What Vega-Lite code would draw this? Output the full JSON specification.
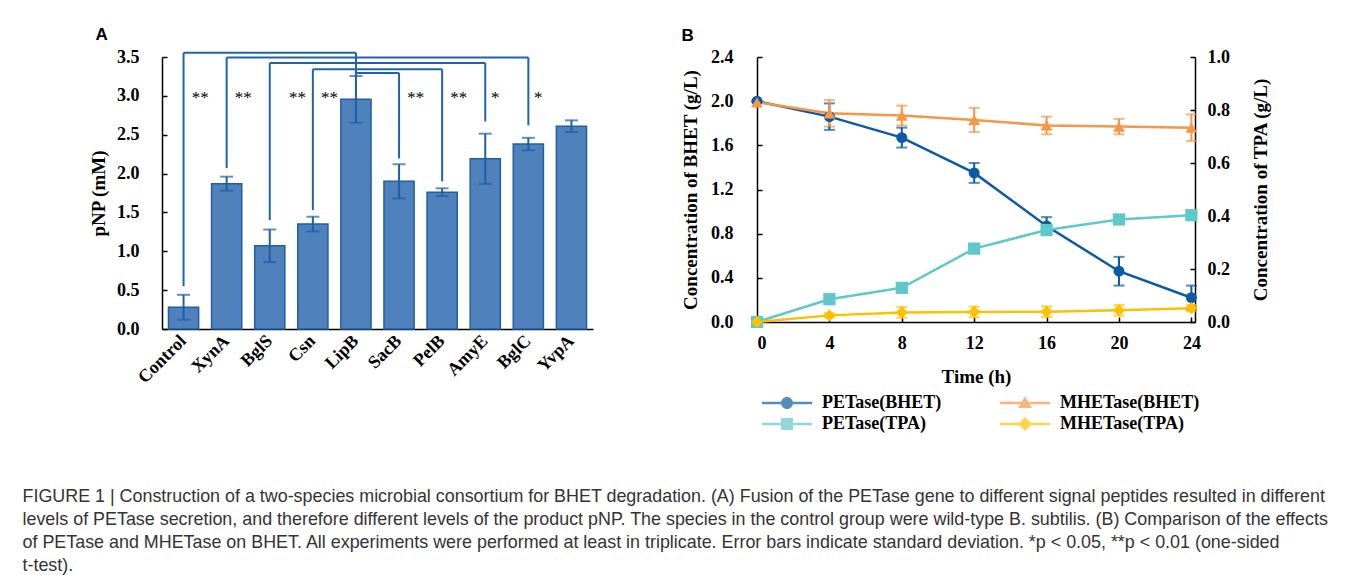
{
  "$schema": "https://vega.github.io/schema/vega-lite/v6.json",
  "padding": {"left": 22, "top": 26, "right": 5, "bottom": 5},
  "background": "white",
  "spacing": 88,
  "resolve": {"scale": {"color": "independent", "shape": "independent"}},
  "config": {
    "view": {"stroke": null},
    "axis": {
      "domainColor": "black", "domainWidth": 1.5, "tickColor": "black", "tickWidth": 1.5,
      "grid": false, "labelOverlap": false,
      "labelFont": "Liberation Serif", "labelFontSize": 18, "labelFontWeight": "bold", "labelColor": "black",
      "titleFont": "Liberation Serif", "titleFontSize": 19, "titleFontWeight": "bold", "titleColor": "black"
    }
  },
  "title": {
    "text": [
      "FIGURE 1 | Construction of a two-species microbial consortium for BHET degradation. (A) Fusion of the PETase gene to different signal peptides resulted in different",
      "levels of PETase secretion, and therefore different levels of the product pNP. The species in the control group were wild-type B. subtilis. (B) Comparison of the effects",
      "of PETase and MHETase on BHET. All experiments were performed at least in triplicate. Error bars indicate standard deviation. *p < 0.05, **p < 0.01 (one-sided",
      "t-test)."
    ],
    "orient": "bottom", "anchor": "start", "frame": "bounds", "dx": -67, "offset": 55,
    "font": "Liberation Sans", "fontSize": 17.9, "fontWeight": "normal", "lineHeight": 23, "color": "#333333"
  },
  "datasets": {
    "bars": [
      {"strain": "Control", "pnp": 0.28, "sd": 0.16},
      {"strain": "XynA", "pnp": 1.87, "sd": 0.09},
      {"strain": "BglS", "pnp": 1.07, "sd": 0.21},
      {"strain": "Csn", "pnp": 1.35, "sd": 0.095},
      {"strain": "LipB", "pnp": 2.955, "sd": 0.30},
      {"strain": "SacB", "pnp": 1.90, "sd": 0.22},
      {"strain": "PelB", "pnp": 1.76, "sd": 0.05},
      {"strain": "AmyE", "pnp": 2.19, "sd": 0.323},
      {"strain": "BglC", "pnp": 2.38, "sd": 0.08},
      {"strain": "YvpA", "pnp": 2.61, "sd": 0.075}
    ],
    "brackets": [
      {"a": "Control", "b": "LipB", "level": 3.556, "aLow": 0.55, "bLow": 3.26},
      {"a": "XynA", "b": "BglC", "level": 3.495, "aLow": 2.07, "bLow": 2.62},
      {"a": "BglS", "b": "AmyE", "level": 3.423, "aLow": 1.40, "bLow": 2.67},
      {"a": "Csn", "b": "PelB", "level": 3.342, "aLow": 1.53, "bLow": 1.90},
      {"a": "LipB", "b": "SacB", "level": 3.295, "aLow": 3.26, "bLow": 2.195}
    ],
    "stars": [
      {"strain": "Control", "sig": "**"},
      {"strain": "XynA", "sig": "**"},
      {"strain": "BglS", "sig": "**"},
      {"strain": "Csn", "sig": "**"},
      {"strain": "SacB", "sig": "**"},
      {"strain": "PelB", "sig": "**"},
      {"strain": "AmyE", "sig": "*"},
      {"strain": "BglC", "sig": "*"}
    ],
    "timecourse": [
      {"t": 0, "series": "PETase(BHET)", "axis": "BHET", "value": 2.00, "sd": 0.0},
      {"t": 4, "series": "PETase(BHET)", "axis": "BHET", "value": 1.86, "sd": 0.12},
      {"t": 8, "series": "PETase(BHET)", "axis": "BHET", "value": 1.67, "sd": 0.09},
      {"t": 12, "series": "PETase(BHET)", "axis": "BHET", "value": 1.35, "sd": 0.09},
      {"t": 16, "series": "PETase(BHET)", "axis": "BHET", "value": 0.87, "sd": 0.08},
      {"t": 20, "series": "PETase(BHET)", "axis": "BHET", "value": 0.46, "sd": 0.13},
      {"t": 24, "series": "PETase(BHET)", "axis": "BHET", "value": 0.22, "sd": 0.11},
      {"t": 0, "series": "MHETase(BHET)", "axis": "BHET", "value": 1.99, "sd": 0.0},
      {"t": 4, "series": "MHETase(BHET)", "axis": "BHET", "value": 1.89, "sd": 0.12},
      {"t": 8, "series": "MHETase(BHET)", "axis": "BHET", "value": 1.87, "sd": 0.09},
      {"t": 12, "series": "MHETase(BHET)", "axis": "BHET", "value": 1.83, "sd": 0.11},
      {"t": 16, "series": "MHETase(BHET)", "axis": "BHET", "value": 1.78, "sd": 0.08},
      {"t": 20, "series": "MHETase(BHET)", "axis": "BHET", "value": 1.77, "sd": 0.07},
      {"t": 24, "series": "MHETase(BHET)", "axis": "BHET", "value": 1.76, "sd": 0.12},
      {"t": 0, "series": "PETase(TPA)", "axis": "TPA", "value": 0.0, "sd": 0.0},
      {"t": 4, "series": "PETase(TPA)", "axis": "TPA", "value": 0.086, "sd": 0.005},
      {"t": 8, "series": "PETase(TPA)", "axis": "TPA", "value": 0.129, "sd": 0.005},
      {"t": 12, "series": "PETase(TPA)", "axis": "TPA", "value": 0.277, "sd": 0.01},
      {"t": 16, "series": "PETase(TPA)", "axis": "TPA", "value": 0.347, "sd": 0.01},
      {"t": 20, "series": "PETase(TPA)", "axis": "TPA", "value": 0.387, "sd": 0.01},
      {"t": 24, "series": "PETase(TPA)", "axis": "TPA", "value": 0.403, "sd": 0.01},
      {"t": 0, "series": "MHETase(TPA)", "axis": "TPA", "value": 0.0, "sd": 0.0},
      {"t": 4, "series": "MHETase(TPA)", "axis": "TPA", "value": 0.025, "sd": 0.008},
      {"t": 8, "series": "MHETase(TPA)", "axis": "TPA", "value": 0.036, "sd": 0.02},
      {"t": 12, "series": "MHETase(TPA)", "axis": "TPA", "value": 0.038, "sd": 0.02},
      {"t": 16, "series": "MHETase(TPA)", "axis": "TPA", "value": 0.039, "sd": 0.02},
      {"t": 20, "series": "MHETase(TPA)", "axis": "TPA", "value": 0.044, "sd": 0.02},
      {"t": 24, "series": "MHETase(TPA)", "axis": "TPA", "value": 0.052, "sd": 0.012}
    ]
  },
  "hconcat": [
    {
      "title": {"text": "A", "anchor": "start", "frame": "bounds", "font": "Liberation Sans", "fontSize": 17, "fontWeight": "bold", "color": "black", "dx": 6, "offset": 4},
      "width": 431,
      "height": 272,
      "layer": [
        {
          "data": {"name": "bars"},
          "mark": {"type": "bar", "fill": "#4f81bd", "stroke": "#1f5fa3", "strokeWidth": 1.5},
          "encoding": {
            "x": {"field": "strain", "type": "nominal", "sort": null,
              "scale": {"domain": ["Control", "XynA", "BglS", "Csn", "LipB", "SacB", "PelB", "AmyE", "BglC", "YvpA"], "paddingInner": 0.3, "paddingOuter": 0.15},
              "axis": {"title": null, "labelAngle": -45, "labelAlign": "right", "labelBaseline": "middle", "labelPadding": 9, "ticks": false}},
            "y": {"field": "pnp", "type": "quantitative",
              "scale": {"domain": [0, 3.5], "nice": false},
              "axis": {"title": "pNP (mM)", "values": [0, 0.5, 1, 1.5, 2, 2.5, 3, 3.5], "format": ".1f", "tickSize": -5, "labelPadding": 28, "titlePadding": 8}}
          }
        },
        {
          "data": {"name": "bars"},
          "mark": {"type": "errorbar", "color": "#1f5fa3", "thickness": 2, "ticks": {"size": 13}},
          "encoding": {
            "x": {"field": "strain", "type": "nominal", "sort": null},
            "y": {"field": "pnp", "type": "quantitative",
              "axis": {"title": "pNP (mM)", "values": [0, 0.5, 1, 1.5, 2, 2.5, 3, 3.5], "format": ".1f", "tickSize": -5, "labelPadding": 28, "titlePadding": 8}},
            "yError": {"field": "sd"}
          }
        },
        {
          "data": {"name": "brackets"},
          "mark": {"type": "rule", "color": "#1f64ab", "strokeWidth": 2},
          "encoding": {
            "x": {"field": "a", "type": "nominal"},
            "x2": {"field": "b"},
            "y": {"field": "level", "type": "quantitative",
              "axis": {"title": "pNP (mM)", "values": [0, 0.5, 1, 1.5, 2, 2.5, 3, 3.5], "format": ".1f", "tickSize": -5, "labelPadding": 28, "titlePadding": 8}}
          }
        },
        {
          "data": {"name": "brackets"},
          "mark": {"type": "rule", "color": "#1f64ab", "strokeWidth": 2},
          "encoding": {
            "x": {"field": "a", "type": "nominal"},
            "y": {"field": "aLow", "type": "quantitative",
              "axis": {"title": "pNP (mM)", "values": [0, 0.5, 1, 1.5, 2, 2.5, 3, 3.5], "format": ".1f", "tickSize": -5, "labelPadding": 28, "titlePadding": 8}},
            "y2": {"field": "level"}
          }
        },
        {
          "data": {"name": "brackets"},
          "mark": {"type": "rule", "color": "#1f64ab", "strokeWidth": 2},
          "encoding": {
            "x": {"field": "b", "type": "nominal"},
            "y": {"field": "bLow", "type": "quantitative",
              "axis": {"title": "pNP (mM)", "values": [0, 0.5, 1, 1.5, 2, 2.5, 3, 3.5], "format": ".1f", "tickSize": -5, "labelPadding": 28, "titlePadding": 8}},
            "y2": {"field": "level"}
          }
        },
        {
          "data": {"name": "stars"},
          "transform": [{"filter": "indexof(['Control','XynA','Csn','SacB','PelB'], datum.strain) >= 0"}],
          "mark": {"type": "text", "font": "Liberation Serif", "fontSize": 17, "color": "black", "baseline": "alphabetic", "align": "center"},
          "encoding": {
            "x": {"field": "strain", "type": "nominal", "bandPosition": 1.05},
            "y": {"datum": 2.91, "type": "quantitative",
              "axis": {"title": "pNP (mM)", "values": [0, 0.5, 1, 1.5, 2, 2.5, 3, 3.5], "format": ".1f", "tickSize": -5, "labelPadding": 28, "titlePadding": 8}},
            "text": {"field": "sig"}
          }
        },
        {
          "data": {"name": "stars"},
          "transform": [{"filter": "datum.strain === 'BglS'"}],
          "mark": {"type": "text", "font": "Liberation Serif", "fontSize": 17, "color": "black", "baseline": "alphabetic", "align": "center"},
          "encoding": {
            "x": {"field": "strain", "type": "nominal", "bandPosition": 1.42},
            "y": {"datum": 2.91, "type": "quantitative",
              "axis": {"title": "pNP (mM)", "values": [0, 0.5, 1, 1.5, 2, 2.5, 3, 3.5], "format": ".1f", "tickSize": -5, "labelPadding": 28, "titlePadding": 8}},
            "text": {"field": "sig"}
          }
        },
        {
          "data": {"name": "stars"},
          "transform": [{"filter": "datum.strain === 'AmyE' || datum.strain === 'BglC'"}],
          "mark": {"type": "text", "font": "Liberation Serif", "fontSize": 17, "color": "black", "baseline": "alphabetic", "align": "center"},
          "encoding": {
            "x": {"field": "strain", "type": "nominal", "bandPosition": 0.83},
            "y": {"datum": 2.91, "type": "quantitative",
              "axis": {"title": "pNP (mM)", "values": [0, 0.5, 1, 1.5, 2, 2.5, 3, 3.5], "format": ".1f", "tickSize": -5, "labelPadding": 28, "titlePadding": 8}},
            "text": {"field": "sig"}
          }
        }
      ]
    },
    {
      "title": {"text": "B", "anchor": "start", "frame": "bounds", "font": "Liberation Sans", "fontSize": 17, "fontWeight": "bold", "color": "black", "dx": 0, "offset": 3},
      "width": 438,
      "height": 265,
      "data": {"name": "timecourse"},
      "resolve": {"scale": {"y": "independent"}},
      "layer": [
        {
          "transform": [{"filter": "datum.axis === 'BHET'"}],
          "layer": [
            {
              "mark": {"type": "line", "strokeWidth": 2.5},
              "encoding": {
                "x": {"field": "t", "type": "quantitative", "title": "Time (h)", "scale": {"domain": [0, 24.2], "nice": false},
                  "axis": {"title": "Time (h)", "values": [0, 4, 8, 12, 16, 20, 24], "tickSize": -5, "labelPadding": 17, "titlePadding": 15}},
                "y": {"field": "value", "type": "quantitative", "title": "Concentration of BHET (g/L)", "scale": {"domain": [0, 2.4], "nice": false},
                  "axis": {"title": "Concentration of BHET (g/L)", "values": [0, 0.4, 0.8, 1.2, 1.6, 2.0, 2.4], "format": ".1f", "tickSize": -5, "labelPadding": 29, "titlePadding": 10}},
                "color": {"field": "series", "type": "nominal",
                  "scale": {"domain": ["PETase(BHET)", "MHETase(BHET)", "PETase(TPA)", "MHETase(TPA)"], "range": ["#0c5aa6", "#f79646", "#5fc8cb", "#ffc000"]}}
              }
            },
            {
              "mark": {"type": "errorbar", "thickness": 2, "ticks": {"size": 11}},
              "encoding": {
                "x": {"field": "t", "type": "quantitative", "title": "Time (h)"},
                "y": {"field": "value", "type": "quantitative", "title": "Concentration of BHET (g/L)"},
                "yError": {"field": "sd"},
                "color": {"field": "series", "type": "nominal"}
              }
            },
            {
              "transform": [{"filter": "datum.series === 'PETase(BHET)'"}],
              "mark": {"type": "point", "shape": "circle", "filled": true, "size": 120, "opacity": 1},
              "encoding": {
                "x": {"field": "t", "type": "quantitative", "title": "Time (h)"},
                "y": {"field": "value", "type": "quantitative", "title": "Concentration of BHET (g/L)"},
                "color": {"field": "series", "type": "nominal"}
              }
            },
            {
              "transform": [{"filter": "datum.series === 'MHETase(BHET)'"}],
              "mark": {"type": "point", "shape": "triangle-up", "filled": true, "size": 140, "opacity": 1},
              "encoding": {
                "x": {"field": "t", "type": "quantitative", "title": "Time (h)"},
                "y": {"field": "value", "type": "quantitative", "title": "Concentration of BHET (g/L)"},
                "color": {"field": "series", "type": "nominal"}
              }
            },
            {
              "transform": [{"filter": "false"}],
              "mark": {"type": "point", "filled": true, "size": 400, "opacity": 1},
              "encoding": {
                "x": {"field": "t", "type": "quantitative", "title": "Time (h)"},
                "y": {"field": "value", "type": "quantitative", "title": "Concentration of BHET (g/L)"},
                "color": {"field": "series", "type": "nominal",
                  "legend": {"title": null, "orient": "none", "direction": "horizontal", "legendX": 20, "legendY": 336, "columns": 2, "columnPadding": 58, "rowPadding": 2, "padding": 0,
                    "labelFont": "Liberation Serif", "labelFontSize": 18, "labelFontWeight": "bold", "labelColor": "black", "labelOffset": 25, "symbolSize": 400, "symbolStrokeWidth": 0, "symbolOpacity": 1}},
                "shape": {"field": "series", "type": "nominal",
                  "scale": {"domain": ["PETase(BHET)", "MHETase(BHET)", "PETase(TPA)", "MHETase(TPA)"],
                    "range": [
                      "M-2.5,-0.125H2.5V0.125H-2.5Z M0,-0.6A0.6,0.6 0 1,1 0,0.6A0.6,0.6 0 1,1 0,-0.6Z",
                      "M-2.5,-0.125H2.5V0.125H-2.5Z M0,-0.68L0.7,0.5L-0.7,0.5Z",
                      "M-2.5,-0.125H2.5V0.125H-2.5Z M-0.6,-0.6H0.6V0.6H-0.6Z",
                      "M-2.5,-0.125H2.5V0.125H-2.5Z M0,-0.7L0.7,0L0,0.7L-0.7,0Z"
                    ]},
                  "legend": {"title": null, "orient": "none", "direction": "horizontal", "legendX": 20, "legendY": 336, "columns": 2, "columnPadding": 58, "rowPadding": 2, "padding": 0,
                    "labelFont": "Liberation Serif", "labelFontSize": 18, "labelFontWeight": "bold", "labelColor": "black", "labelOffset": 25, "symbolSize": 400, "symbolStrokeWidth": 0, "symbolOpacity": 1}}
              }
            }
          ]
        },
        {
          "transform": [{"filter": "datum.axis === 'TPA'"}],
          "layer": [
            {
              "mark": {"type": "line", "strokeWidth": 2.5},
              "encoding": {
                "x": {"field": "t", "type": "quantitative", "title": "Time (h)"},
                "y": {"field": "value", "type": "quantitative", "title": "Concentration of TPA (g/L)", "scale": {"domain": [0, 1], "nice": false},
                  "axis": {"orient": "right", "title": "Concentration of TPA (g/L)", "titleAngle": 270, "values": [0, 0.2, 0.4, 0.6, 0.8, 1.0], "format": ".1f", "tickSize": -5, "labelPadding": 17, "titlePadding": 41}},
                "color": {"field": "series", "type": "nominal"}
              }
            },
            {
              "mark": {"type": "errorbar", "thickness": 2, "ticks": {"size": 11}},
              "encoding": {
                "x": {"field": "t", "type": "quantitative", "title": "Time (h)"},
                "y": {"field": "value", "type": "quantitative", "title": "Concentration of TPA (g/L)"},
                "yError": {"field": "sd"},
                "color": {"field": "series", "type": "nominal"}
              }
            },
            {
              "transform": [{"filter": "datum.series === 'PETase(TPA)'"}],
              "mark": {"type": "point", "shape": "square", "filled": true, "size": 150, "opacity": 1},
              "encoding": {
                "x": {"field": "t", "type": "quantitative", "title": "Time (h)"},
                "y": {"field": "value", "type": "quantitative", "title": "Concentration of TPA (g/L)"},
                "color": {"field": "series", "type": "nominal"}
              }
            },
            {
              "transform": [{"filter": "datum.series === 'MHETase(TPA)'"}],
              "mark": {"type": "point", "shape": "diamond", "filled": true, "size": 150, "opacity": 1},
              "encoding": {
                "x": {"field": "t", "type": "quantitative", "title": "Time (h)"},
                "y": {"field": "value", "type": "quantitative", "title": "Concentration of TPA (g/L)"},
                "color": {"field": "series", "type": "nominal"}
              }
            }
          ]
        }
      ]
    }
  ]
}
